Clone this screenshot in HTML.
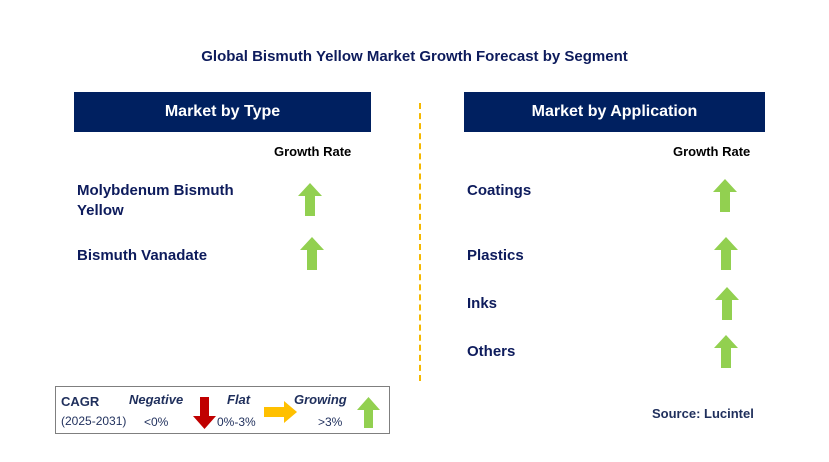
<!DOCTYPE html>
<html><head><meta charset="utf-8"><style>
body{margin:0;width:829px;height:462px;background:#fff;position:relative;font-family:"Liberation Sans",Arial,sans-serif;overflow:hidden}
.a{position:absolute}
.t{color:#0d1b5c;font-weight:bold;font-size:15px}
.hdr{position:absolute;background:#002060;color:#fff;font-weight:bold;font-size:16px;display:flex;align-items:center;justify-content:center;top:92px;height:40px}
.gr{position:absolute;font-size:13px;font-weight:bold;color:#000}
</style></head><body>
<div class="a" style="left:0;width:829px;top:48px;text-align:center;font-weight:bold;font-size:15px;color:#0d1b5c">Global Bismuth Yellow Market Growth Forecast by Segment</div>
<div class="hdr" style="left:74px;width:297px">Market by Type</div>
<div class="hdr" style="left:464px;width:301px">Market by Application</div>
<div class="a" style="left:419px;top:103px;height:278px;border-left:2px dashed #f5b800"></div>
<div class="gr" style="left:274px;top:144px">Growth Rate</div>
<div class="gr" style="left:673px;top:144px">Growth Rate</div>
<div class="a t" style="left:77px;top:181px;line-height:20px">Molybdenum Bismuth<br>Yellow</div>
<div class="a t" style="left:77px;top:247px">Bismuth Vanadate</div>
<div class="a t" style="left:467px;top:182px">Coatings</div>
<div class="a t" style="left:467px;top:247px">Plastics</div>
<div class="a t" style="left:467px;top:295px">Inks</div>
<div class="a t" style="left:467px;top:343px">Others</div>
<svg class="a" style="left:0;top:0" width="829" height="462">
<g fill="#92d050">
<polygon transform="translate(298,183)" points="12,0 24,13 17,13 17,33 7,33 7,13 0,13"/>
<polygon transform="translate(300,237)" points="12,0 24,13 17,13 17,33 7,33 7,13 0,13"/>
<polygon transform="translate(713,179)" points="12,0 24,13 17,13 17,33 7,33 7,13 0,13"/>
<polygon transform="translate(714,237)" points="12,0 24,13 17,13 17,33 7,33 7,13 0,13"/>
<polygon transform="translate(715,287)" points="12,0 24,13 17,13 17,33 7,33 7,13 0,13"/>
<polygon transform="translate(714,335)" points="12,0 24,13 17,13 17,33 7,33 7,13 0,13"/>
</g>
</svg>
<div class="a" style="left:55px;top:386px;width:333px;height:46px;border:1.5px solid #7f7f7f">
<svg width="333" height="46" style="position:absolute;left:0;top:0">
<polygon transform="translate(137,10)" points="7,0 16,0 16,19 23,19 11.5,32 0,19 7,19" fill="#c00000"/>
<polygon transform="translate(208,14)" points="0,6 20,6 20,0 33,11 20,22 20,16 0,16" fill="#ffc000"/>
<polygon transform="translate(301,10)" points="11.5,0 23,13 16,13 16,31 7,31 7,13 0,13" fill="#92d050"/>
</svg>
<div class="a" style="left:5px;top:7px;font-size:13px;font-weight:bold;color:#1f2f5c">CAGR</div>
<div class="a" style="left:5px;top:27px;font-size:12px;color:#1f2f5c">(2025-2031)</div>
<div class="a" style="left:73px;top:5px;font-size:13px;font-weight:bold;font-style:italic;color:#1f2f5c">Negative</div>
<div class="a" style="left:88px;top:28px;font-size:12px;color:#1f2f5c">&lt;0%</div>
<div class="a" style="left:171px;top:5px;font-size:13px;font-weight:bold;font-style:italic;color:#1f2f5c">Flat</div>
<div class="a" style="left:161px;top:28px;font-size:12px;color:#1f2f5c">0%-3%</div>
<div class="a" style="left:238px;top:5px;font-size:13px;font-weight:bold;font-style:italic;color:#1f2f5c">Growing</div>
<div class="a" style="left:262px;top:28px;font-size:12px;color:#1f2f5c">&gt;3%</div>
</div>
<div class="a" style="left:652px;top:406px;font-size:13px;font-weight:bold;color:#1f2f5c">Source: Lucintel</div>
</body></html>
